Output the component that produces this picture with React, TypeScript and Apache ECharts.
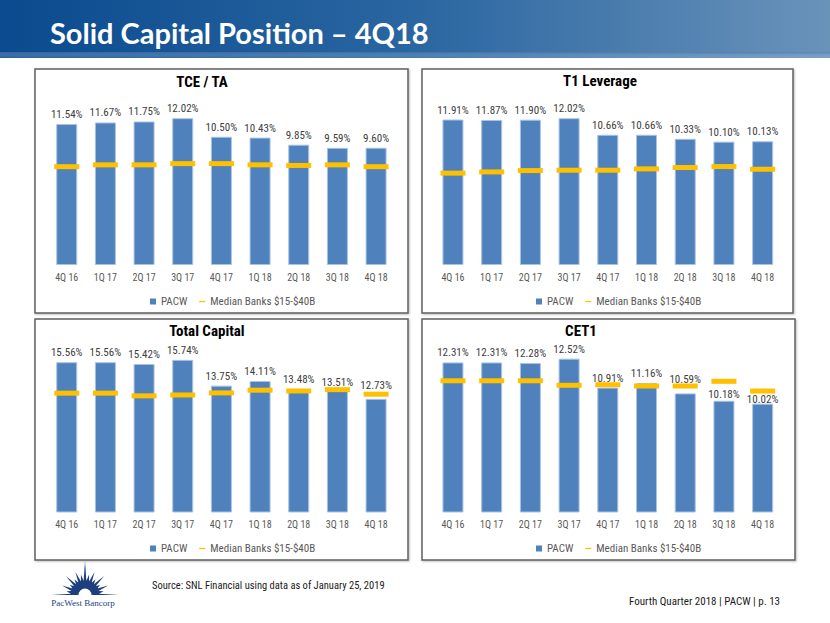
import React, { useEffect, useRef } from 'react';
import * as echarts from 'echarts';

const categories = ['4Q 16', '1Q 17', '2Q 17', '3Q 17', '4Q 17', '1Q 18', '2Q 18', '3Q 18', '4Q 18'];
const tceTa = [11.54, 11.67, 11.75, 12.02, 10.5, 10.43, 9.85, 9.59, 9.6];
const tceTaMedian = [8.05, 8.2, 8.2, 8.3, 8.3, 8.2, 8.15, 8.2, 8.05];
const t1Leverage = [11.91, 11.87, 11.9, 12.02, 10.66, 10.66, 10.33, 10.1, 10.13];
const t1LeverageMedian = [7.52, 7.62, 7.73, 7.76, 7.76, 7.87, 7.98, 8.06, 7.84];
const totalCapital = [15.56, 15.56, 15.42, 15.74, 13.75, 14.11, 13.48, 13.51, 12.73];
const totalCapitalMedian = [13.17, 13.17, 12.96, 13.03, 13.19, 13.4, 13.34, 13.44, 13.09];
const cet1 = [12.31, 12.31, 12.28, 12.52, 10.91, 11.16, 10.59, 10.18, 10.02];
const cet1Median = [11.29, 11.29, 11.29, 11.04, 11.07, 11.0, 11.0, 11.26, 10.72];

const SERIES_BAR = 'PACW';
const SERIES_MED = 'Median Banks $15-$40B';
const pageTitle = 'Solid Capital Position \u2013 4Q18';
const sourceText = 'Source: SNL Financial using data as of January 25, 2019';
const footerText = 'Fourth Quarter 2018 | PACW | p. 13';
const logoText = 'PacWest Bancorp';

const FONT = "'Liberation Sans Narrow', 'Roboto Condensed', Roboto, sans-serif";

type Panel = {
  title: string;
  values: number[];
  median: number[];
  labelLift: number[];
  grid: { left: number; top: number; width: number; height: number };
  min: number;
  max: number;
  titleX: number;
  titleY: number;
  legendLeft: number;
  legendTop: number;
  box: [number, number, number, number];
};

const panels: Panel[] = [
  {
    title: 'TCE / TA', values: tceTa, median: tceTaMedian, labelLift: [0, 0, 0, 0, 0, 0, 0, 0, 0],
    grid: { left: 47.4, top: 94, width: 348, height: 171 }, min: 0, max: 14,
    titleX: 202, titleY: 82, legendLeft: 145, legendTop: 291, box: [35, 69, 373, 244],
  },
  {
    title: 'T1 Leverage', values: t1Leverage, median: t1LeverageMedian, labelLift: [0, 0, 0, 0, 0, 0, 0, 0, 0],
    grid: { left: 433.6, top: 94, width: 348.4, height: 171 }, min: 0, max: 14,
    titleX: 600, titleY: 81, legendLeft: 531, legendTop: 291, box: [422, 69, 371, 244],
  },
  {
    title: 'Total Capital', values: totalCapital, median: totalCapitalMedian, labelLift: [0, 0, 0, 0, 0, 0, 0, -3, 4],
    grid: { left: 47.4, top: 350, width: 348, height: 162 }, min: 4, max: 16.5,
    titleX: 207, titleY: 331, legendLeft: 145, legendTop: 538, box: [35, 319, 373, 241],
  },
  {
    title: 'CET1', values: cet1, median: cet1Median, labelLift: [0, 0, 0, 0, 0, 0, 4, -3, -5],
    grid: { left: 433.6, top: 332, width: 348.4, height: 180 }, min: 4, max: 14,
    titleX: 581, titleY: 331, legendLeft: 531, legendTop: 538, box: [422, 319, 373, 241],
  },
];

function logoElements(): any[] {
  const cx = 85;
  const cy = 595;
  const lengths = [34, 19, 25, 18, 27, 19, 25, 21, 34, 21, 25, 19, 27, 18, 25, 19, 34];
  const n = lengths.length;
  const step = Math.PI / (n - 1);
  const r0 = 14;
  const navy = '#1d3f7e';
  const els: any[] = [];
  lengths.forEach((L, i) => {
    const a = Math.PI - i * step;
    const d = step * 0.5;
    const pts = [
      [cx + r0 * Math.cos(a - d), cy - Math.max(0, r0 * Math.sin(a - d))],
      [cx + L * Math.cos(a), cy - L * Math.sin(a)],
      [cx + r0 * Math.cos(a + d), cy - Math.max(0, r0 * Math.sin(a + d))],
      [cx, cy],
    ];
    els.push({ type: 'polygon', shape: { points: pts }, style: { fill: navy }, silent: true });
  });
  els.push({ type: 'sector', shape: { cx, cy, r: 14.5, startAngle: Math.PI, endAngle: 2 * Math.PI }, style: { fill: navy }, silent: true });
  els.push({ type: 'sector', shape: { cx, cy, r: 6.5, startAngle: Math.PI, endAngle: 2 * Math.PI }, style: { fill: '#ffffff' }, silent: true });
  els.push({
    type: 'text', x: 83, y: 603,
    style: { text: logoText, fill: navy, font: "9px 'Liberation Serif', 'DejaVu Serif', serif", textAlign: 'center', textVerticalAlign: 'middle' },
  });
  return els;
}

export default function App() {
  const ref = useRef<HTMLDivElement>(null);
  useEffect(() => {
    if (!ref.current) return;
    const chart = echarts.init(ref.current, undefined, { renderer: 'svg' });

    const graphic: any[] = [
      {
        type: 'rect', shape: { x: 0, y: 0, width: 830, height: 58 }, silent: true, z: -10,
        style: {
          fill: new echarts.graphic.LinearGradient(0, 0, 1, 0, [
            { offset: 0, color: '#0a4a8e' },
            { offset: 0.5, color: '#2a66a1' },
            { offset: 1, color: '#6a93ba' },
          ]),
        },
      },
      {
        type: 'rect', shape: { x: 0, y: 52, width: 830, height: 8 }, silent: true, z: -9,
        style: {
          fill: new echarts.graphic.LinearGradient(0, 0, 0, 1, [
            { offset: 0, color: 'rgba(70,120,175,0.6)' },
            { offset: 1, color: 'rgba(255,255,255,0)' },
          ]),
        },
      },
      {
        type: 'text', x: 50, y: 32,
        style: { text: pageTitle, fill: '#ffffff', font: "bold 29px Lato, 'Open Sans', sans-serif", textVerticalAlign: 'middle' },
      },
      {
        type: 'text', x: 152, y: 585,
        style: { text: sourceText, fill: '#1a1a1a', font: `10.5px ${FONT}`, textVerticalAlign: 'middle' },
      },
      {
        type: 'text', x: 780, y: 601,
        style: { text: footerText, fill: '#1a1a1a', font: `11px ${FONT}`, textAlign: 'right', textVerticalAlign: 'middle' },
      },
      ...logoElements(),
    ];

    panels.forEach((p) => {
      graphic.push({
        type: 'rect', shape: { x: p.box[0], y: p.box[1], width: p.box[2], height: p.box[3] }, silent: true, z: -5,
        style: { fill: '#ffffff', stroke: '#5f5f5f', lineWidth: 1.5, shadowBlur: 2, shadowColor: 'rgba(0,0,0,0.25)', shadowOffsetX: 1, shadowOffsetY: 1 },
      });
      graphic.push({
        type: 'text', x: p.titleX, y: p.titleY,
        style: { text: p.title, fill: '#000000', font: `bold 15px ${FONT}`, textAlign: 'center', textVerticalAlign: 'middle' },
      });
    });

    const option: any = {
      animation: false,
      backgroundColor: '#ffffff',
      textStyle: { fontFamily: FONT },
      graphic,
      grid: panels.map((p) => ({ ...p.grid, containLabel: false })),
      xAxis: panels.map((_, i) => ({
        type: 'category', gridIndex: i, data: categories,
        axisLine: { show: false }, axisTick: { show: false }, splitLine: { show: false },
        axisLabel: { color: '#595959', fontSize: 10, margin: 7, fontFamily: FONT, interval: 0 },
      })),
      yAxis: panels.map((p, i) => ({
        type: 'value', gridIndex: i, min: p.min, max: p.max, show: false, splitLine: { show: false },
      })),
      legend: panels.map((p) => ({
        left: p.legendLeft, top: p.legendTop, itemWidth: 6, itemHeight: 6, itemGap: 12, selectedMode: false,
        itemStyle: { borderWidth: 0 },
        textStyle: { color: '#595959', fontSize: 11, fontFamily: FONT },
        data: [
          { name: SERIES_BAR, icon: 'rect' },
          { name: SERIES_MED, icon: 'path://M0,0h10v2.2h-10z' },
        ],
      })),
      series: panels.flatMap((p, i) => [
        {
          name: SERIES_BAR, type: 'bar', xAxisIndex: i, yAxisIndex: i, barWidth: 21,
          data: p.values.map((v, j) => ({ value: v, label: { offset: [0, -p.labelLift[j]] } })),
          itemStyle: { color: '#4f81bd', borderColor: '#a9c3e3', borderWidth: 1 },
          label: {
            show: true, position: 'top', distance: 4, color: '#404040', fontSize: 11, fontFamily: FONT,
            formatter: (d: any) => `${Number(d.value).toFixed(2)}%`,
          },
          z: 2,
        },
        {
          name: SERIES_MED, type: 'scatter', xAxisIndex: i, yAxisIndex: i, data: p.median,
          symbol: 'rect', symbolSize: [25, 5], itemStyle: { color: '#ffc000', opacity: 1 }, z: 3,
        },
      ]),
    };
    chart.setOption(option);
    return () => chart.dispose();
  }, []);
  return <div ref={ref} style={{ position: 'absolute', left: 0, top: 0, width: 830, height: 623 }} />;
}
